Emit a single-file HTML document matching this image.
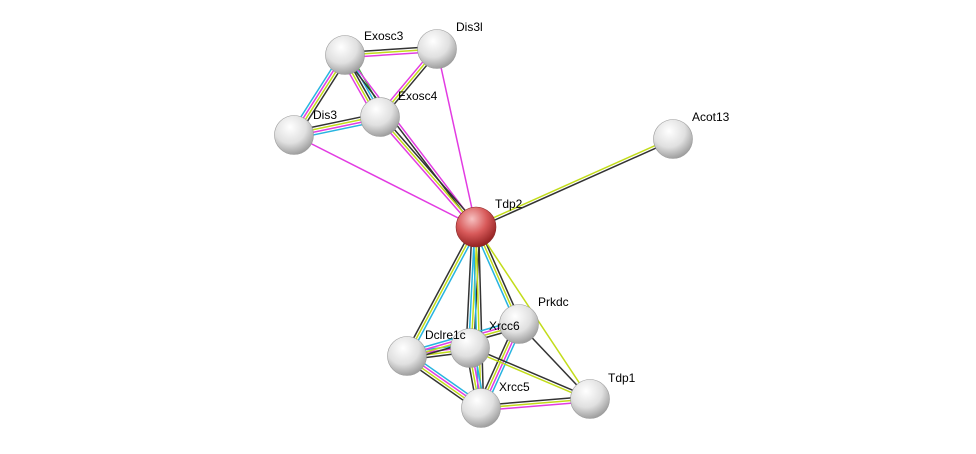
<!DOCTYPE html>
<html><head><meta charset="utf-8"><style>
html,body{margin:0;padding:0;background:#fff;width:976px;height:454px;overflow:hidden}
svg text{font-family:"Liberation Sans",sans-serif;font-size:12px;fill:#000}
</style></head><body>
<svg id="s" width="976" height="454" xmlns="http://www.w3.org/2000/svg">
<defs>
<radialGradient id="g" cx="0.4" cy="0.3" r="0.75">
<stop offset="0" stop-color="#ffffff"/><stop offset="0.55" stop-color="#e0e0e0"/><stop offset="1" stop-color="#959595"/></radialGradient>
<radialGradient id="r" cx="0.4" cy="0.3" r="0.75">
<stop offset="0" stop-color="#f6c0c0"/><stop offset="0.5" stop-color="#d85a5a"/><stop offset="1" stop-color="#8a1a1a"/></radialGradient>
</defs>
<g id="edges"></g>
<g id="nodes"></g>
<g>
<text x="364" y="40">Exosc3</text>
<text x="456" y="31">Dis3l</text>
<text x="398" y="100">Exosc4</text>
<text x="313" y="119">Dis3</text>
<text x="692" y="121">Acot13</text>
<text x="495" y="208">Tdp2</text>
<text x="538" y="306">Prkdc</text>
<text x="489" y="330">Xrcc6</text>
<text x="425" y="339">Dclre1c</text>
<text x="608" y="382">Tdp1</text>
<text x="499" y="391">Xrcc5</text>
</g>
</svg>
<script>
var N={Exosc3:[345,55],Dis3l:[437,49],Exosc4:[380,117],Dis3:[294,135],Acot13:[673,139],Tdp2:[476,227],Prkdc:[519,324],Xrcc6:[470,348],Dclre1c:[407,356],Tdp1:[590,399],Xrcc5:[481,408]};
var C={k:"#333",y:"#c2dc1a",m:"#e23be2",c:"#27b4e0",g:"#2fc12f"};
var E=[["Exosc3","Dis3l","kym"],["Exosc3","Dis3","kymc"],["Exosc3","Exosc4","gckym"],["Exosc3","Tdp2","mk"],["Dis3l","Exosc4","kym"],["Dis3l","Tdp2","m"],["Dis3","Exosc4","kymc"],["Dis3","Tdp2","m"],["Exosc4","Tdp2","kym"],["Acot13","Tdp2","ky"],["Tdp2","Dclre1c","cyk"],["Tdp2","Xrcc6","kyck"],["Tdp2","Xrcc5","kyc"],["Tdp2","Prkdc","kyc"],["Tdp2","Tdp1","y"],["Dclre1c","Xrcc6","cmyk"],["Dclre1c","Prkdc","cmyk"],["Dclre1c","Xrcc5","cmyk"],["Xrcc6","Xrcc5","cmyk"],["Prkdc","Xrcc5","cmyk"],["Xrcc6","Tdp1","ky"],["Xrcc5","Tdp1","kym"],["Prkdc","Tdp1","k"]];
var ns="http://www.w3.org/2000/svg",eg=document.getElementById("edges"),ng=document.getElementById("nodes");
E.forEach(function(e){var a=N[e[0]],b=N[e[1]],dx=b[0]-a[0],dy=b[1]-a[1],L=Math.hypot(dx,dy),px=-dy/L,py=dx/L,n=e[2].length;
for(var i=0;i<n;i++){var o=(i-(n-1)/2)*2.6,l=document.createElementNS(ns,"line");
l.setAttribute("x1",a[0]+px*o);l.setAttribute("y1",a[1]+py*o);l.setAttribute("x2",b[0]+px*o);l.setAttribute("y2",b[1]+py*o);
l.setAttribute("stroke",C[e[2][i]]);l.setAttribute("stroke-width","1.5");eg.appendChild(l);}});
for(var k in N){var c=document.createElementNS(ns,"circle");c.setAttribute("cx",N[k][0]);c.setAttribute("cy",N[k][1]);c.setAttribute("r",k=="Tdp2"?20:19.5);
c.setAttribute("fill",k=="Tdp2"?"url(#r)":"url(#g)");c.setAttribute("stroke",k=="Tdp2"?"#8a2a2a":"#999");c.setAttribute("stroke-width","0.6");ng.appendChild(c);}
</script>
</body></html>
